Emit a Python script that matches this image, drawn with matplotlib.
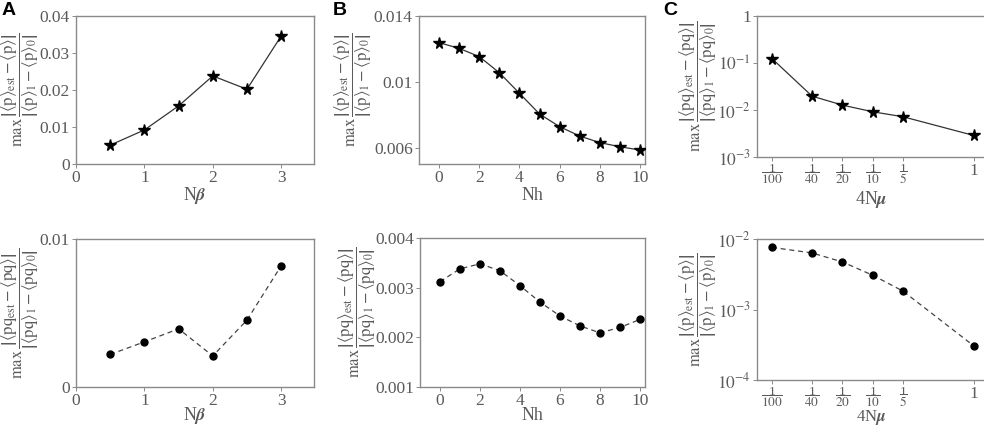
import matplotlib
matplotlib.use("Agg")
import matplotlib.pyplot as plt

plt.rcParams['font.family'] = 'Liberation Serif'
plt.rcParams['mathtext.fontset'] = 'stix'

GRAY = '#5a5a5a'
FRAME = '#8a8a8a'

# ---- data ----
nbeta = [0.5, 1.0, 1.5, 2.0, 2.5, 3.0]
a_top = [0.0051, 0.0092, 0.0157, 0.0238, 0.0202, 0.0346]
a_bot = [0.0022, 0.00305, 0.00393, 0.0021, 0.00452, 0.00819]

nh = [0, 1, 2, 3, 4, 5, 6, 7, 8, 9, 10]
b_top = [0.01238, 0.01203, 0.01153, 0.01055, 0.0093, 0.00804, 0.00727, 0.0067, 0.0063, 0.00605, 0.00585]
b_bot = [0.00312, 0.00338, 0.00348, 0.00334, 0.00304, 0.00271, 0.00243, 0.00223, 0.00209, 0.0022, 0.00236]

nmu = [1/100, 1/40, 1/20, 1/10, 1/5, 1]
nmu_labels = ['1\n$\\overline{\\mathrm{100}}$', '1\n$\\overline{\\mathrm{40}}$', '1\n$\\overline{\\mathrm{20}}$',
              '1\n$\\overline{\\mathrm{10}}$', '1\n$\\overline{\\mathrm{5}}$', '1']
c_top = [0.124, 0.0197, 0.0127, 0.00916, 0.00718, 0.00288]
c_bot = [0.0076, 0.00634, 0.00473, 0.00306, 0.00182, 0.000307]

lab_p = r'$\mathrm{max}\,\dfrac{\left|\langle \mathrm{p}\rangle_{\mathrm{est}}-\langle \mathrm{p}\rangle\right|}{\left|\langle \mathrm{p}\rangle_{1}-\langle \mathrm{p}\rangle_{0}\right|}$'
lab_pq = r'$\mathrm{max}\,\dfrac{\left|\langle \mathrm{pq}\rangle_{\mathrm{est}}-\langle \mathrm{pq}\rangle\right|}{\left|\langle \mathrm{pq}\rangle_{1}-\langle \mathrm{pq}\rangle_{0}\right|}$'
lab_pq_a = r'$\mathrm{max}\,\dfrac{\left|\langle \mathrm{pq}_{\mathrm{est}}-\langle \mathrm{pq}\rangle\right|}{\left|\langle \mathrm{pq}\rangle_{1}-\langle \mathrm{pq}\rangle_{0}\right|}$'

W, H = 984, 428
fig = plt.figure(figsize=(W / 100, H / 100), dpi=100)


def box(x0, y0, x1, y1):
    return fig.add_axes([x0 / W, 1 - y1 / H, (x1 - x0) / W, (y1 - y0) / H])


def style(ax, xlabel, ylabel, xl_y, yl_x, xl_size=13):
    for s in ax.spines.values():
        s.set_color(FRAME)
        s.set_linewidth(1.0)
    ax.tick_params(colors=FRAME, labelcolor=GRAY, labelsize=12.5, direction='out', length=3, width=0.7, pad=1.5)
    ax.tick_params(which='minor', length=0)
    ax.set_xlabel(xlabel, color=GRAY, fontsize=xl_size, va='center')
    ax.set_ylabel(ylabel, color=GRAY, fontsize=12, va='center')
    ax.xaxis.set_label_coords(0.5, xl_y)
    ax.yaxis.set_label_coords(yl_x, 0.5)


def top_line(ax, x, y):
    ax.plot(x, y, color='#333333', lw=0.9, marker='*', ms=8.5, mfc='black', mec='black', zorder=3)


def bot_line(ax, x, y):
    ax.plot(x, y, color='#444444', lw=0.9, ls=(0, (4, 3)), marker='o', ms=5, mfc='black', mec='black', zorder=3)


def frac_ticks(ax):
    ax.set_xticks(nmu, nmu_labels)
    for t in ax.get_xticklabels()[:-1]:
        t.set_fontsize(9.5)
        t.set_linespacing(0.72)
    ax.get_xticklabels()[-1].set_fontsize(12.5)


# A top
ax = box(76, 16, 314, 164)
top_line(ax, nbeta, a_top)
ax.set_xlim(0, 3.48)
ax.set_ylim(0, 0.04)
ax.set_xticks([0, 1, 2, 3])
ax.set_yticks([0, 0.01, 0.02, 0.03, 0.04], ['0', '0.01', '0.02', '0.03', '0.04'])
style(ax, r'N$\boldsymbol{\beta}$', lab_p, -0.21, -0.235)

# B top
ax = box(419, 16, 645, 164)
top_line(ax, nh, b_top)
ax.set_xlim(-1, 10.25)
ax.set_ylim(0.005, 0.014)
ax.set_xticks([0, 2, 4, 6, 8, 10])
ax.set_yticks([0.006, 0.01, 0.014], ['0.006', '0.01', '0.014'])
style(ax, 'Nh', lab_p, -0.21, -0.29)

# C top
ax = box(757, 16, 985, 157)
top_line(ax, nmu, c_top)
ax.set_xscale('log')
ax.set_yscale('log')
ax.set_xlim(0.0071, 1.3)
ax.set_ylim(1e-3, 1)
ax.set_yticks([1e-3, 1e-2, 1e-1, 1], [r'$10^{-3}$', r'$10^{-2}$', r'$10^{-1}$', '1'])
style(ax, r'4N$\boldsymbol{\mu}$', lab_pq, -0.3, -0.255)
frac_ticks(ax)

# A bottom
ax = box(76, 239, 314, 387)
bot_line(ax, nbeta, a_bot)
ax.set_xlim(0, 3.48)
ax.set_ylim(0, 0.01)
ax.set_xticks([0, 1, 2, 3])
ax.set_yticks([0, 0.01], ['0', '0.01'])
style(ax, r'N$\boldsymbol{\beta}$', lab_pq_a, -0.19, -0.235)

# B bottom
ax = box(420, 238, 645, 387)
bot_line(ax, nh, b_bot)
ax.set_xlim(-1, 10.25)
ax.set_ylim(0.001, 0.004)
ax.set_xticks([0, 2, 4, 6, 8, 10])
ax.set_yticks([0.001, 0.002, 0.003, 0.004], ['0.001', '0.002', '0.003', '0.004'])
style(ax, 'Nh', lab_pq, -0.19, -0.28)

# C bottom
ax = box(757, 239, 985, 380)
bot_line(ax, nmu, c_bot)
ax.set_xscale('log')
ax.set_yscale('log')
ax.set_xlim(0.0071, 1.3)
ax.set_ylim(1e-4, 1e-2)
ax.set_yticks([1e-4, 1e-3, 1e-2], [r'$10^{-4}$', r'$10^{-3}$', r'$10^{-2}$'])
style(ax, r'4N$\boldsymbol{\mu}$', lab_p, -0.265, -0.255, xl_size=12)
frac_ticks(ax)

for x, t in [(2, 'A'), (333, 'B'), (663, 'C')]:
    fig.text(x / W, 1 - 2 / H, t, ha='left', va='top', fontsize=14, fontweight='bold',
             family='Liberation Sans', color='black')

fig.savefig('out.png', dpi=100)
